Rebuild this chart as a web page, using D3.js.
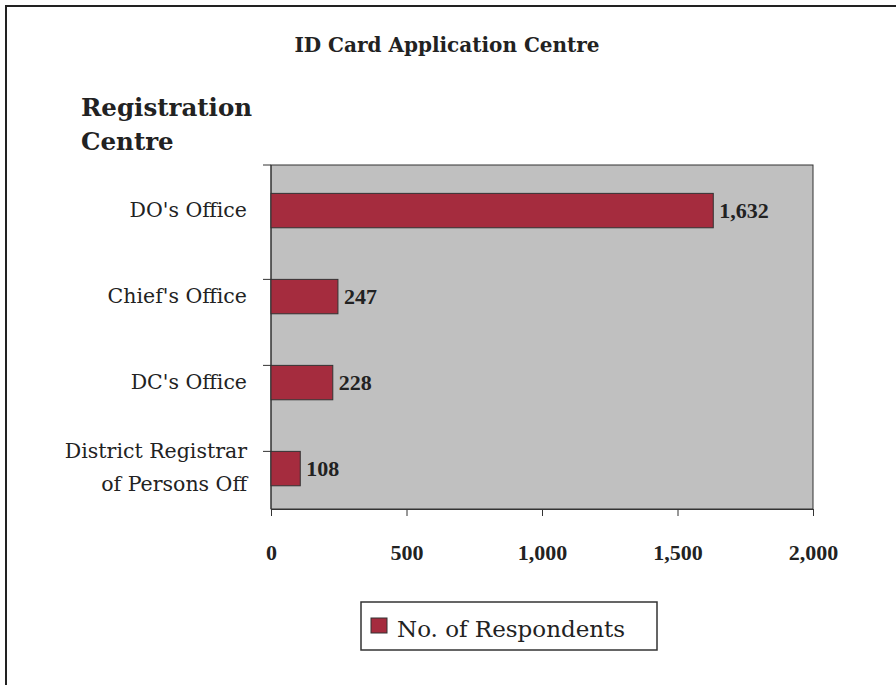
<!DOCTYPE html>
<html>
<head>
<meta charset="utf-8">
<script src="https://cdn.jsdelivr.net/npm/d3@7"></script>
<style>
  body { margin: 0; background: #fff; }
  text { font-family: "DejaVu Serif", "Liberation Serif", serif; fill: #222; }
  .num { font-family: "Liberation Serif", serif; }
</style>
</head>
<body>
<div id="chart"></div>
<script>
// Chart data
const categories = ["DO's Office", "Chief's Office", "DC's Office", "District Registrar of Persons Off"];
const respondents = [1632, 247, 228, 108];
const xTicks = [0, 500, 1000, 1500, 2000];
const seriesName = "No. of Respondents";

const W = 896, H = 685;
const plot = {left: 271, right: 813, top: 165, bottom: 509};

const svg = d3.select("#chart")
  .append("svg")
    .attr("width", W)
    .attr("height", H);

// outer frame (runs off the right and bottom edge)
svg.append("rect")
  .attr("x", 6).attr("y", 6)
  .attr("width", 920).attr("height", 720)
  .attr("fill", "none")
  .attr("stroke", "#222")
  .attr("stroke-width", 2);

// titles
svg.append("text")
  .attr("x", 447).attr("y", 52)
  .attr("text-anchor", "middle")
  .attr("font-weight", "bold")
  .attr("font-size", 20)
  .text("ID Card Application Centre");

svg.append("text")
  .attr("font-weight", "bold")
  .attr("font-size", 24.5)
  .selectAll("tspan")
  .data(["Registration", "Centre"])
  .join("tspan")
    .attr("x", 81)
    .attr("y", (d, i) => 116 + i * 34)
    .text(d => d);

// scales
const x = d3.scaleLinear()
  .domain([0, 2000])
  .range([plot.left, plot.right]);

const y = d3.scaleBand()
  .domain(categories)
  .range([plot.top, plot.bottom])
  .paddingInner(0.6)
  .paddingOuter(0.3)
  .align(0.55);

// plot background
svg.append("rect")
  .attr("x", plot.left).attr("y", plot.top)
  .attr("width", plot.right - plot.left)
  .attr("height", plot.bottom - plot.top)
  .attr("fill", "#c0c0c0")
  .attr("stroke", "#333")
  .attr("stroke-width", 1);

// x axis ticks and labels
const xAxis = svg.append("g")
  .attr("transform", `translate(0,${plot.bottom})`)
  .call(d3.axisBottom(x).tickValues(xTicks).tickSize(7).tickPadding(28)
    .tickFormat(d3.format(",")));
xAxis.select(".domain").attr("stroke", "#333");
xAxis.selectAll(".tick line").attr("stroke", "#333");
xAxis.selectAll("text")
  .attr("class", "num")
  .attr("font-size", 22)
  .attr("font-weight", "bold")
  .attr("fill", "#222");

// y axis: left line plus ticks
svg.append("line")
  .attr("x1", plot.left).attr("x2", plot.left)
  .attr("y1", plot.top).attr("y2", plot.bottom)
  .attr("stroke", "#333");
svg.append("line")
  .attr("x1", plot.left - 8).attr("x2", plot.left)
  .attr("y1", plot.top).attr("y2", plot.top)
  .attr("stroke", "#333");
svg.append("g")
  .selectAll("line")
  .data(categories.slice(1))
  .join("line")
    .attr("x1", plot.left - 8).attr("x2", plot.left)
    .attr("y1", d => y(d)).attr("y2", d => y(d))
    .attr("stroke", "#333");

// category labels (wrapped where long)
const labelLines = d => d.length > 20 ? ["District Registrar", "of Persons Off"] : [d];
svg.append("g")
  .selectAll("text")
  .data(categories)
  .join("text")
    .attr("text-anchor", "end")
    .attr("font-size", 20.5)
    .each(function(d) {
      const lines = labelLines(d);
      const cy = y(d) + y.bandwidth() / 2;
      d3.select(this).selectAll("tspan")
        .data(lines)
        .join("tspan")
          .attr("x", 247)
          .attr("y", (l, i) => cy + 6 + (i - (lines.length - 1) / 2) * 33)
          .text(l => l);
    });

// bars
svg.append("g")
  .selectAll("rect")
  .data(categories)
  .join("rect")
    .attr("x", x(0))
    .attr("y", d => y(d))
    .attr("width", (d, i) => x(respondents[i]) - x(0))
    .attr("height", y.bandwidth())
    .attr("fill", "#a52c3e")
    .attr("stroke", "#333")
    .attr("stroke-width", 1);

// value labels
svg.append("g")
  .selectAll("text")
  .data(categories)
  .join("text")
    .attr("class", "num")
    .attr("x", (d, i) => x(respondents[i]) + 6)
    .attr("y", d => y(d) + y.bandwidth() / 2 + 7)
    .attr("font-size", 22)
    .attr("font-weight", "bold")
    .text((d, i) => d3.format(",")(respondents[i]));

// legend
const legend = svg.append("g");
legend.append("rect")
  .attr("x", 361).attr("y", 602)
  .attr("width", 296).attr("height", 48)
  .attr("fill", "#fff")
  .attr("stroke", "#333")
  .attr("stroke-width", 1.5);
legend.append("rect")
  .attr("x", 371).attr("y", 618)
  .attr("width", 16).attr("height", 15)
  .attr("fill", "#a52c3e")
  .attr("stroke", "#333");
legend.append("text")
  .attr("x", 397).attr("y", 637)
  .attr("font-size", 23)
  .text(seriesName);
</script>
</body>
</html>
